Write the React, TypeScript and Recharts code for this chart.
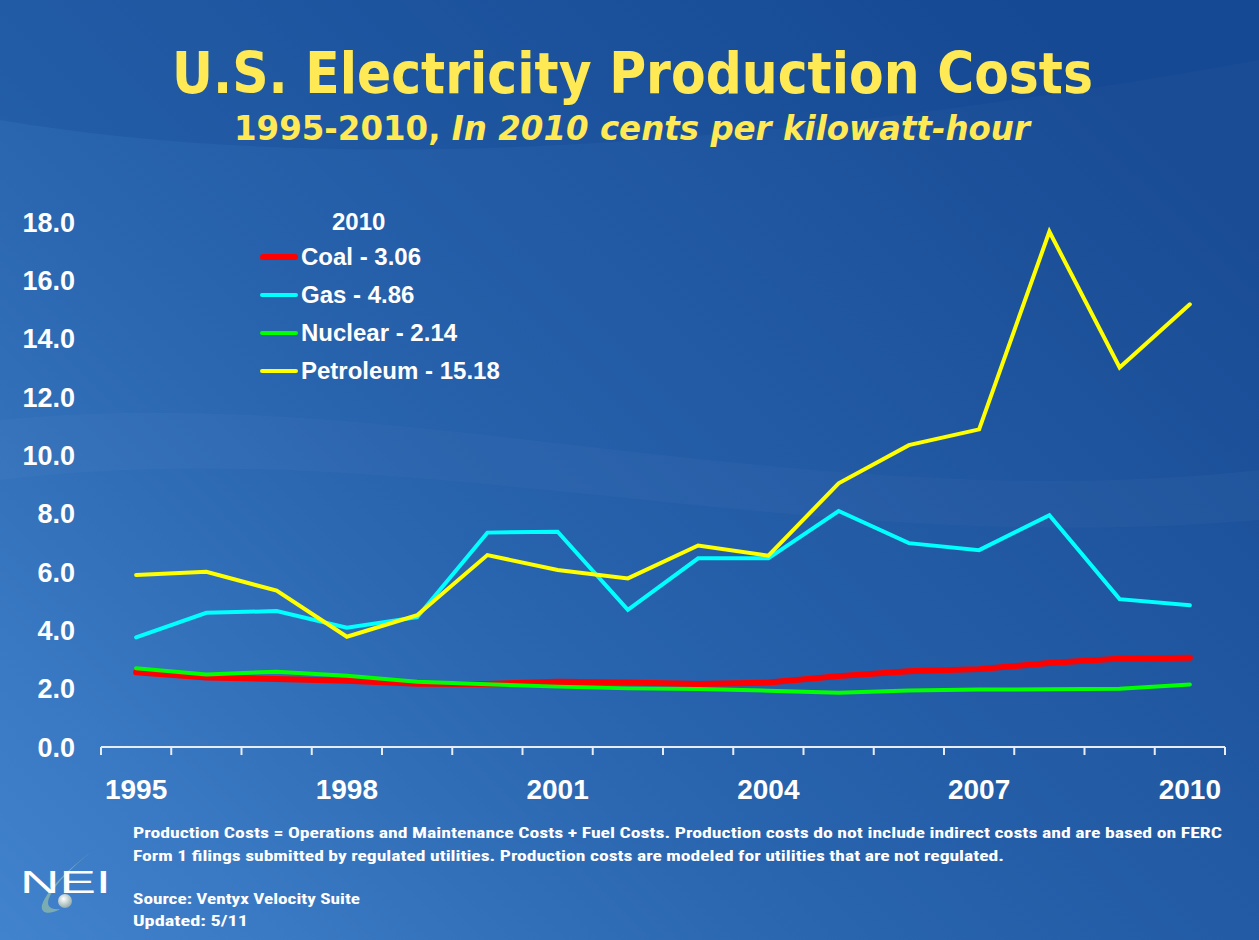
import React from 'react';
import { LineChart, Line, XAxis, YAxis, Legend } from 'recharts';

const years = [1995, 1996, 1997, 1998, 1999, 2000, 2001, 2002, 2003, 2004, 2005, 2006, 2007, 2008, 2009, 2010];
const coal = [2.56, 2.38, 2.33, 2.27, 2.17, 2.16, 2.24, 2.21, 2.16, 2.21, 2.43, 2.6, 2.67, 2.88, 3.03, 3.06];
const gas = [3.76, 4.6, 4.66, 4.09, 4.45, 7.35, 7.38, 4.7, 6.47, 6.47, 8.09, 6.99, 6.75, 7.95, 5.07, 4.86];
const nuclear = [2.7, 2.49, 2.58, 2.44, 2.24, 2.15, 2.07, 2.01, 1.99, 1.93, 1.86, 1.94, 1.97, 1.98, 2.0, 2.14];
const petroleum = [5.9, 6.01, 5.36, 3.78, 4.52, 6.58, 6.07, 5.78, 6.91, 6.56, 9.04, 10.35, 10.89, 17.67, 13.01, 15.18];

const seriesKeys = ['coal', 'gas', 'nuclear', 'petroleum'];
const seriesNames = ['Coal - 3.06', 'Gas - 4.86', 'Nuclear - 2.14', 'Petroleum - 15.18'];
const seriesColors = ['#ff0000', '#00ffff', '#00ff00', '#ffff00'];
const seriesWidths = [6, 4, 4, 4];

const yTicks = [0, 2, 4, 6, 8, 10, 12, 14, 16, 18];
const xLabelTicks = [1995, 1998, 2001, 2004, 2007, 2010];
const xBoundaryTicks = [1994.5, 1995.5, 1996.5, 1997.5, 1998.5, 1999.5, 2000.5, 2001.5, 2002.5, 2003.5, 2004.5, 2005.5, 2006.5, 2007.5, 2008.5, 2009.5, 2010.5];

const legendTitle = '2010';
const titleText = 'U.S. Electricity Production Costs';
const subtitleA = '1995-2010, ';
const subtitleB = 'In 2010 cents per kilowatt-hour';
const note1 = 'Production Costs = Operations and Maintenance Costs + Fuel Costs. Production costs do not include indirect costs and are based on FERC';
const note2 = 'Form 1 filings submitted by regulated utilities. Production costs are modeled for utilities that are not regulated.';
const source = 'Source: Ventyx Velocity Suite';
const updated = 'Updated: 5/11';

const seriesArrays: Record<string, number[]> = { coal, gas, nuclear, petroleum };
const data = years.map((year, i) => {
  const row: Record<string, number> = { year };
  seriesKeys.forEach((k) => {
    row[k] = seriesArrays[k][i];
  });
  return row;
});

const sans = '"Liberation Sans", Arial, Helvetica, sans-serif';
const titleFont = '"DejaVu Sans", Verdana, Tahoma, sans-serif';
const narrow = '"Liberation Sans Narrow", "Roboto Condensed", "Liberation Sans", Arial, sans-serif';

const renderLegend = (props: any) => {
  const payload = props.payload || [];
  return (
    <div style={{ fontFamily: sans, fontWeight: 'bold', color: '#ffffff', fontSize: 24 }}>
      <div style={{ marginLeft: 72, height: 32, lineHeight: '32px' }}>{legendTitle}</div>
      {payload.map((p: any, i: number) => {
        const idx = seriesKeys.indexOf(p.dataKey);
        const w = idx >= 0 ? seriesWidths[idx] : 4;
        return (
          <div key={i} style={{ display: 'flex', alignItems: 'center', height: 38 }}>
            <div style={{ width: 38, height: w, background: p.color, borderRadius: w / 2 }} />
            <span style={{ marginLeft: 3, whiteSpace: 'nowrap' }}>{p.value}</span>
          </div>
        );
      })}
    </div>
  );
};

export default function App() {
  return (
    <div style={{ position: 'absolute', left: 0, top: 0, width: 1259, height: 940, overflow: 'hidden' }}>
      <svg width={1259} height={940} style={{ position: 'absolute', left: 0, top: 0 }}>
        <defs>
          <linearGradient id="bg" x1="0" y1="1" x2="1" y2="0.25">
            <stop offset="0" stopColor="#4283cd" />
            <stop offset="0.45" stopColor="#2863ad" />
            <stop offset="1" stopColor="#194c95" />
          </linearGradient>
          <radialGradient id="ball" cx="0.4" cy="0.35" r="0.7">
            <stop offset="0" stopColor="#ffffff" />
            <stop offset="1" stopColor="#8aa7a6" />
          </radialGradient>
        </defs>
        <rect x={0} y={0} width={1259} height={940} fill="url(#bg)" />
        <path d="M0,120 C300,170 700,160 1259,60 L1259,0 L0,0 Z" fill="#0d3f88" opacity={0.18} />
        <path d="M0,420 C400,380 800,520 1259,470 L1259,520 C800,560 400,430 0,480 Z" fill="#ffffff" opacity={0.025} />
        <text x={172} y={93} textLength={921} lengthAdjust="spacingAndGlyphs" fontFamily={titleFont} fontWeight="bold" fontSize={57} fill="#ffea55">
          {titleText}
        </text>
        <text x={234} y={140} textLength={796} lengthAdjust="spacingAndGlyphs" fontFamily={titleFont} fontWeight="bold" fontSize={33} fill="#ffea55">
          <tspan>{subtitleA}</tspan>
          <tspan fontStyle="italic">{subtitleB}</tspan>
        </text>
        <g fontFamily={narrow} fontWeight="bold" fontSize={15} fill="#ffffff">
          <text x={133} y={838} textLength={1089} lengthAdjust="spacingAndGlyphs">{note1}</text>
          <text x={133} y={861} textLength={871} lengthAdjust="spacingAndGlyphs">{note2}</text>
          <text x={133} y={904} textLength={227} lengthAdjust="spacingAndGlyphs">{source}</text>
          <text x={133} y={926} textLength={115} lengthAdjust="spacingAndGlyphs">{updated}</text>
        </g>
        <path d="M91,852 C70,868 48,888 42,905 C40,914 50,915 60,909 C50,910 46,906 49,898 C56,882 74,866 91,852 Z" fill="#86b4ad" opacity={0.85} />
        <circle cx={65} cy={901} r={7} fill="url(#ball)" />
        <text x={20} y={893} textLength={91} lengthAdjust="spacingAndGlyphs" fontFamily={sans} fontSize={31} fill="#ffffff">NEI</text>
      </svg>
      <div style={{ position: 'absolute', left: 0, top: 0 }}>
        <LineChart width={1259} height={940} data={data} margin={{ top: 222, right: 34, bottom: 123, left: 21 }}>
          <XAxis
            xAxisId="a"
            dataKey="year"
            type="number"
            domain={[1994.5, 2010.5]}
            ticks={xBoundaryTicks}
            tickFormatter={() => ''}
            height={10}
            tickSize={8}
            axisLine={{ stroke: '#e6edf7', strokeWidth: 2 }}
            tickLine={{ stroke: '#e6edf7', strokeWidth: 2 }}
            interval={0}
            allowDataOverflow
          />
          <XAxis
            xAxisId="b"
            dataKey="year"
            type="number"
            domain={[1994.5, 2010.5]}
            ticks={xLabelTicks}
            height={60}
            tickSize={0}
            tickMargin={22}
            axisLine={false}
            tickLine={false}
            interval={0}
            allowDataOverflow
            tick={{ fill: '#ffffff', fontSize: 28, fontWeight: 'bold', fontFamily: sans }}
          />
          <YAxis
            domain={[0, 18]}
            ticks={yTicks}
            width={80}
            tickSize={0}
            tickMargin={26}
            axisLine={false}
            tickLine={false}
            interval={0}
            tickFormatter={(v: number) => v.toFixed(1)}
            tick={{ fill: '#ffffff', fontSize: 27, fontWeight: 'bold', fontFamily: sans }}
          />
          <Legend
            layout="vertical"
            align="center"
            verticalAlign="middle"
            content={renderLegend}
            wrapperStyle={{ left: 260, top: 206, width: 320 }}
          />
          {seriesKeys.map((k, i) => (
            <Line
              key={k}
              xAxisId="a"
              type="linear"
              dataKey={k}
              name={seriesNames[i]}
              stroke={seriesColors[i]}
              strokeWidth={seriesWidths[i]}
              strokeLinecap="round"
              dot={false}
              activeDot={false}
              isAnimationActive={false}
            />
          ))}
        </LineChart>
      </div>
    </div>
  );
}
